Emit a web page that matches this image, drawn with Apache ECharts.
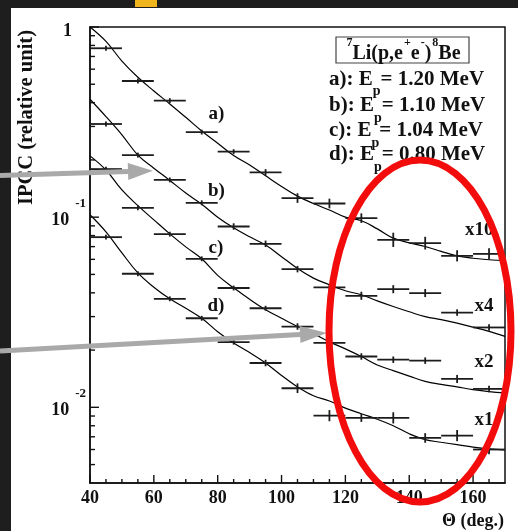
<!DOCTYPE html>
<html><head><meta charset="utf-8">
<script src="https://cdn.jsdelivr.net/npm/echarts@6/dist/echarts.min.js"></script>
<style>
html,body{margin:0;padding:0;background:#1e1e1e;width:518px;height:531px;overflow:hidden}
#sheet{position:absolute;left:11px;top:8px;right:0;bottom:0;background:#fff}
#tab{position:absolute;left:135px;top:0;width:22px;height:7px;background:#f0b41c}
#chart{position:absolute;left:0;top:0;width:518px;height:531px}
</style></head><body>
<div id="sheet"></div><div id="tab"></div><div id="chart"></div>
<script>
// Angular bins of the measurement (deg) and their half-width
const binCentres = [45, 55, 65, 75, 85, 95, 105, 115, 125, 135, 145, 155, 165];
const binHalfWidth = 5;

// Measured IPCC, as plotted (each set already multiplied by its scale factor)
const ipccA = [0.773, 0.52, 0.41, 0.28, 0.221, 0.172, 0.126, 0.118, 0.0988, 0.076, 0.073, 0.0626, 0.0641];
const ipccB = [0.309, 0.212, 0.157, 0.119, 0.0893, 0.0724, 0.0533, 0.0427, 0.0386, 0.0418, 0.0399, 0.0315, 0.0263];
const ipccC = [0.179, 0.112, 0.0814, 0.0604, 0.0424, 0.0332, 0.0266, 0.0218, 0.0185, 0.0178, 0.0176, 0.0141, 0.0125];
const ipccD = [0.0785, 0.0504, 0.0372, 0.0294, 0.022, 0.0171, 0.0126, 0.00904, 0.0088, 0.0088, 0.0069, 0.0071, 0.006];

// Relative statistical uncertainties of the points
const errA = [0.03, 0.03, 0.03, 0.03, 0.03, 0.04, 0.06, 0.06, 0.06, 0.09, 0.08, 0.07, 0.07];
const errB = [0.03, 0.03, 0.03, 0.03, 0.04, 0.04, 0.04, 0.04, 0.05, 0.05, 0.05, 0.04, 0.04];
const errC = [0.03, 0.03, 0.03, 0.03, 0.03, 0.03, 0.04, 0.04, 0.04, 0.04, 0.04, 0.05, 0.04];
const errD = [0.03, 0.03, 0.03, 0.03, 0.03, 0.04, 0.06, 0.07, 0.05, 0.07, 0.06, 0.07, 0.06];

// Simulated IPCC curves, sampled every 5 deg
const curveAngles = [40, 45, 50, 55, 60, 65, 70, 75, 80, 85, 90, 95, 100, 105, 110, 115, 120, 125, 130, 135, 140, 145, 150, 155, 160, 165, 170];
const curveA = [1.0, 0.84, 0.662, 0.544, 0.461, 0.394, 0.335, 0.284, 0.245, 0.211, 0.188, 0.165, 0.145, 0.129, 0.118, 0.109, 0.1, 0.0957, 0.0868, 0.0776, 0.0733, 0.0701, 0.0661, 0.0626, 0.0608, 0.0597, 0.0592];
const curveB = [0.417, 0.338, 0.271, 0.212, 0.181, 0.156, 0.134, 0.117, 0.1, 0.0879, 0.0788, 0.0714, 0.062, 0.0537, 0.0478, 0.0441, 0.041, 0.0391, 0.0363, 0.0339, 0.0318, 0.03, 0.0289, 0.0277, 0.0264, 0.0251, 0.0236];
const curveC = [0.21, 0.177, 0.139, 0.115, 0.0968, 0.0817, 0.0698, 0.0604, 0.0494, 0.0425, 0.037, 0.0326, 0.0294, 0.0266, 0.0244, 0.0221, 0.0203, 0.0185, 0.0167, 0.0156, 0.0146, 0.0137, 0.0132, 0.0128, 0.0124, 0.0121, 0.0119];
const curveD = [0.103, 0.0837, 0.0649, 0.0509, 0.0428, 0.0372, 0.0332, 0.0294, 0.025, 0.0218, 0.0194, 0.0171, 0.0147, 0.0128, 0.0115, 0.0108, 0.0099, 0.00925, 0.00866, 0.008, 0.00726, 0.00676, 0.00655, 0.00636, 0.00617, 0.00604, 0.00598];

// Axis ranges and tick positions
const xMin = 40, xMax = 170, xLabelStep = 20;
const yMin = 0.004, yMax = 1;
const xMajorTicks = [40, 60, 80, 100, 120, 140, 160];
const xMinorTicks = [45, 50, 55, 65, 70, 75, 85, 90, 95, 105, 110, 115, 125, 130, 135, 145, 150, 155, 165];
const yMajorTicks = [0.01, 0.1, 1];
const yMinorTicks = [0.005, 0.006, 0.007, 0.008, 0.009, 0.02, 0.03, 0.04, 0.05, 0.06, 0.07, 0.08, 0.09, 0.2, 0.3, 0.4, 0.5, 0.6, 0.7, 0.8, 0.9];

// Text
const setLabels = ['a)', 'b)', 'c)', 'd)'];
const scaleLabels = ['x10', 'x4', 'x2', 'x1'];
const reaction = '{s|7}{m|Li(p,e}{s|+}{m|e}{s|-}{m|)}{s|8}{m|Be}';
const energies = ['1.20', '1.10', '1.04', '0.80'];
const yTitle = 'IPCC (relative unit)';
const xTitle = 'Θ (deg.)';

const serif = "'Liberation Serif', 'DejaVu Serif', serif";
const ink = '#111';

function pairs(xs, ys) { return xs.map((x, i) => [x, ys[i]]); }
function triples(xs, ys, es) { return xs.map((x, i) => [x, ys[i], es[i]]); }

function renderCross(params, api) {
  const x = api.value(0), y = api.value(1), e = api.value(2);
  const l = api.coord([x - binHalfWidth, y]);
  const r = api.coord([x + binHalfWidth, y]);
  const t = api.coord([x, y * (1 + e)]);
  const b = api.coord([x, y / (1 + e)]);
  const st = { stroke: '#1c1c1c', lineWidth: 1.8 };
  return { type: 'group', children: [
    { type: 'line', shape: { x1: l[0], y1: l[1], x2: r[0], y2: r[1] }, style: st },
    { type: 'line', shape: { x1: t[0], y1: t[1], x2: b[0], y2: b[1] }, style: st }
  ] };
}

function tickRenderer(dir, len) {
  return function (params, api) {
    const p = api.coord([api.value(0), api.value(1)]);
    const q = dir === 'x' ? [p[0], p[1] - len] : [p[0] + len, p[1]];
    return { type: 'line', shape: { x1: p[0], y1: p[1], x2: q[0], y2: q[1] },
      style: { stroke: ink, lineWidth: 1.4 } };
  };
}

const sets = [
  { pts: ipccA, err: errA, curve: curveA },
  { pts: ipccB, err: errB, curve: curveB },
  { pts: ipccC, err: errC, curve: curveC },
  { pts: ipccD, err: errD, curve: curveD }
];

const series = [];
sets.forEach(s => {
  series.push({ type: 'line', data: pairs(curveAngles, s.curve), smooth: 0.4, symbol: 'none',
    lineStyle: { color: '#000', width: 1.2 }, silent: true, z: 3 });
  series.push({ type: 'custom', data: triples(binCentres, s.pts, s.err), renderItem: renderCross,
    silent: true, z: 4 });
});
series.push({ type: 'custom', data: xMajorTicks.map(v => [v, yMin]), renderItem: tickRenderer('x', 8), silent: true, z: 5 });
series.push({ type: 'custom', data: xMinorTicks.map(v => [v, yMin]), renderItem: tickRenderer('x', 4), silent: true, z: 5 });
series.push({ type: 'custom', data: yMajorTicks.map(v => [xMin, v]), renderItem: tickRenderer('y', 9), silent: true, z: 5 });
series.push({ type: 'custom', data: yMinorTicks.map(v => [xMin, v]), renderItem: tickRenderer('y', 5), silent: true, z: 5 });

function boldText(text, x, y, size, align, extra) {
  return Object.assign({ type: 'text', x: x, y: y, z: 10,
    style: { text: text, fontFamily: serif, fontWeight: 'bold', fontSize: size, fill: ink,
      align: align || 'center', verticalAlign: 'middle' } }, extra || {});
}

function arrow(x0, y0, x1, y1, headLen, halfW) {
  const dx = x1 - x0, dy = y1 - y0, L = Math.hypot(dx, dy);
  const ux = dx / L, uy = dy / L, nx = -uy, ny = ux;
  const tip = [x1 + ux * headLen, y1 + uy * headLen];
  const c = '#a9a9a9';
  return [
    { type: 'line', z: 20, shape: { x1: x0, y1: y0, x2: x1, y2: y1 }, style: { stroke: c, lineWidth: 5 } },
    { type: 'polygon', z: 20, shape: { points: [tip, [x1 + nx * halfW, y1 + ny * halfW], [x1 - nx * halfW, y1 - ny * halfW]] },
      style: { fill: c } }
  ];
}

const graphic = [];
graphic.push(boldText(yTitle, 27, 117.5, 20.5, 'center', { rotation: Math.PI / 2 }));
graphic.push(boldText(xTitle, 504, 521, 18, 'right'));
const setLabelPos = [[216.5, 114], [216.5, 191], [216, 248.5], [216, 306]];
setLabels.forEach((t, i) => graphic.push(boldText(t, setLabelPos[i][0], setLabelPos[i][1], 19)));
const scaleLabelY = [230, 306, 362, 420];
scaleLabels.forEach((t, i) => graphic.push(boldText(t, 493.5, scaleLabelY[i], 19, 'right')));

// reaction box
graphic.push({ type: 'rect', z: 10, shape: { x: 336, y: 37, width: 133, height: 26 },
  style: { fill: '#fff', stroke: '#444', lineWidth: 1.2 } });
graphic.push({ type: 'text', x: 403, y: 50, z: 11, style: { text: reaction, align: 'center', verticalAlign: 'middle',
  rich: {
    m: { fontFamily: serif, fontWeight: 'bold', fontSize: 20, lineHeight: 20, padding: [7, 0, 0, 0], fill: ink },
    s: { fontFamily: serif, fontWeight: 'bold', fontSize: 12, lineHeight: 12, padding: [0, 0, 15, 1], fill: ink }
  } } });
const energyTop = [75.5, 102, 127, 151];
energies.forEach((e, i) => {
  graphic.push({ type: 'text', x: 329, y: energyTop[i], z: 11, style: {
    text: '{t|' + setLabels[i] + ': E}{sub|p}{t|= ' + e + ' MeV}', align: 'left', verticalAlign: 'top',
    rich: {
      t: { fontFamily: serif, fontWeight: 'bold', fontSize: 21, lineHeight: 22, padding: [0, 0, 14, 0], fill: ink },
      sub: { fontFamily: serif, fontWeight: 'bold', fontSize: 14, lineHeight: 14, padding: [16, 0, 6, 0], fill: ink }
    } } });
});

// annotation arrows and ellipse
arrow(0, 175.5, 128, 171.5, 25, 8.5).forEach(g => graphic.push(g));
arrow(0, 351, 300, 334.5, 27, 8.5).forEach(g => graphic.push(g));
graphic.push({ type: 'ellipse', z: 25, shape: { cx: 420, cy: 331, rx: 91, ry: 171 },
  style: { fill: null, stroke: '#f20c0c', lineWidth: 7 } });

function yLabel(v) {
  const k = Math.log10(v), r = Math.round(k);
  if (Math.abs(k - r) > 1e-6) return '';
  if (r === 0) return '{one|1}';
  return '{b|10}{s|' + r + '}';
}

const chart = echarts.init(document.getElementById('chart'), null, { renderer: 'canvas' });
chart.setOption({
  backgroundColor: 'transparent',
  animation: false,
  grid: { left: 90, right: 13, top: 27, bottom: 48, containLabel: false, outerBoundsMode: 'none',
    show: true, borderColor: ink, borderWidth: 1.5, backgroundColor: 'transparent' },
  xAxis: {
    type: 'value', min: xMin, max: xMax, interval: xLabelStep,
    axisLine: { show: true, lineStyle: { color: ink, width: 1.5 } },
    axisTick: { show: false }, splitLine: { show: false }, minorTick: { show: false },
    axisLabel: { showMaxLabel: false, margin: 6, fontFamily: serif, fontWeight: 'bold', fontSize: 18, color: ink }
  },
  yAxis: {
    type: 'log', logBase: 10, min: yMin, max: yMax,
    axisLine: { show: true, lineStyle: { color: ink, width: 1.5 } },
    axisTick: { show: false }, splitLine: { show: false }, minorTick: { show: false },
    axisLabel: { margin: 4, formatter: yLabel, color: ink,
      rich: {
        one: { fontFamily: serif, fontWeight: 'bold', fontSize: 18, lineHeight: 18, padding: [8, 14, 0, 0], color: ink },
        b: { fontFamily: serif, fontWeight: 'bold', fontSize: 18, lineHeight: 18, padding: [14, 0, 8, 0], color: ink },
        s: { fontFamily: serif, fontWeight: 'bold', fontSize: 13, lineHeight: 13, padding: [0, 0, 27, 6], color: ink }
      } }
  },
  series: series,
  graphic: graphic
});
</script></body></html>
